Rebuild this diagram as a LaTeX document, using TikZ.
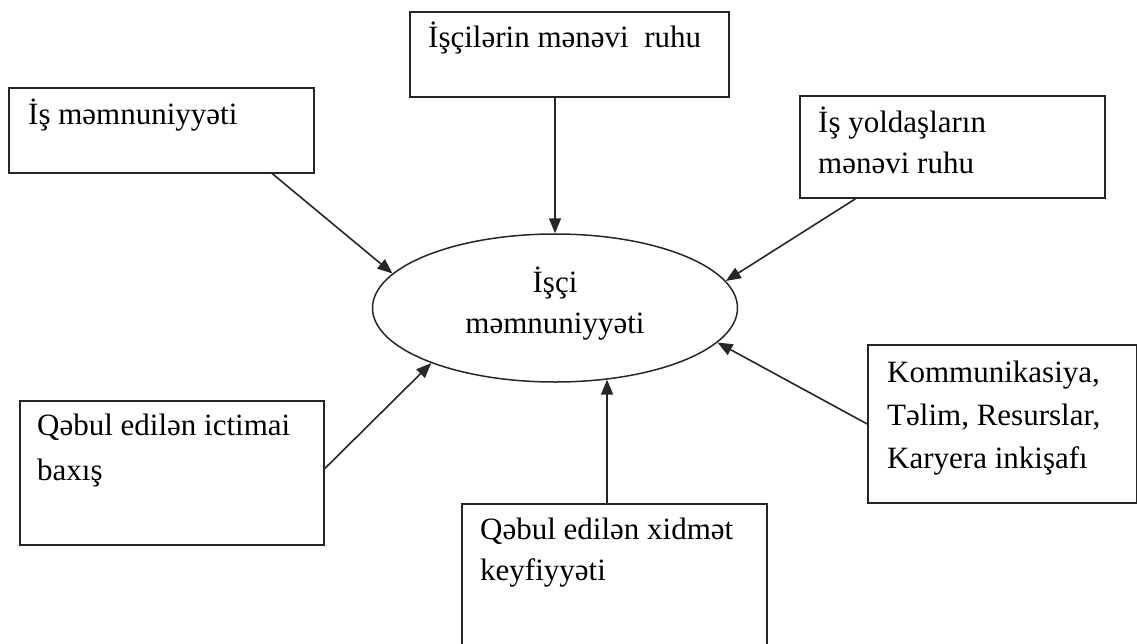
\documentclass[tikz,border=0pt]{standalone}
\usepackage{fontspec}
\setmainfont{Liberation Serif}
\usetikzlibrary{arrows.meta,shapes.geometric,calc}
\tikzset{
  box/.style={draw=black!85,line width=1.8pt,rectangle,inner sep=0pt,anchor=north west},
  txt/.style={anchor=north west,inner sep=0pt,align=left,font=\fontsize{31}{43}\selectfont},
  conn/.style={draw=black!85,line width=1.6pt,-{Triangle[length=15pt,width=12pt]}},
}
\newcommand{\st}{\rule{0pt}{30pt}}
\begin{document}
\begin{tikzpicture}[x=1pt,y=-1pt]
\useasboundingbox (0,0) rectangle (1137,643);
\clip (0,0) rectangle (1137,643);
% boxes
\node[box,minimum width=319pt,minimum height=85pt] (boxA) at (409,11) {};
\node[box,minimum width=305pt,minimum height=85pt] (boxB) at (8,87) {};
\node[box,minimum width=305pt,minimum height=102pt] (boxC) at (799,95) {};
\node[box,minimum width=304pt,minimum height=144pt] (boxD) at (19,400) {};
\node[box,minimum width=269pt,minimum height=158pt] (boxE) at (867,344) {};
\node[box,minimum width=305pt,minimum height=170pt] (boxF) at (461,503) {};
\node[draw=black!85,line width=1.5pt,ellipse,minimum width=365pt,minimum height=148pt,inner sep=0pt] (ell) at (555,308) {};
% texts
\node[txt] (tA) at (428,17) {\st İşçilərin mənəvi~ ruhu};
\node[txt] (tB) at (28,94) {\st İş məmnuniyyəti};
\node[txt,font=\fontsize{31}{41}\selectfont] (tC) at (818,102) {\st İş yoldaşların\\mənəvi ruhu};
\node[txt,font=\fontsize{31}{45}\selectfont] (tD) at (37,405) {\st Qəbul edilən ictimai\\baxış};
\node[txt,font=\fontsize{31}{43}\selectfont] (tE) at (887,352) {\st Kommunikasiya,\\Təlim, Resurslar,\\Karyera inkişafı};
\node[txt,font=\fontsize{31}{41}\selectfont] (tF) at (480,509) {\st Qəbul edilən xidmət\\keyfiyyəti};
\node[txt,anchor=north,align=center,font=\fontsize{31}{41}\selectfont] (tEll) at (555,262) {\st İşçi\\məmnuniyyəti};
% connectors
\draw[conn] (ell.north |- boxA.south) -- (ell.north);
\draw[conn] ($(boxB.south west)!0.862!(boxB.south east)$) -- (ell.168);
\draw[conn] ($(boxC.south west)!0.184!(boxC.south east)$) -- (ell.9);
\draw[conn] ($(boxD.north east)!0.47!(boxD.south east)$) -- (ell.-156);
\draw[conn] (boxE.west) -- (ell.-12);
\draw[conn] (ell.-54 |- boxF.north) -- (ell.-54);
\end{tikzpicture}
\end{document}
